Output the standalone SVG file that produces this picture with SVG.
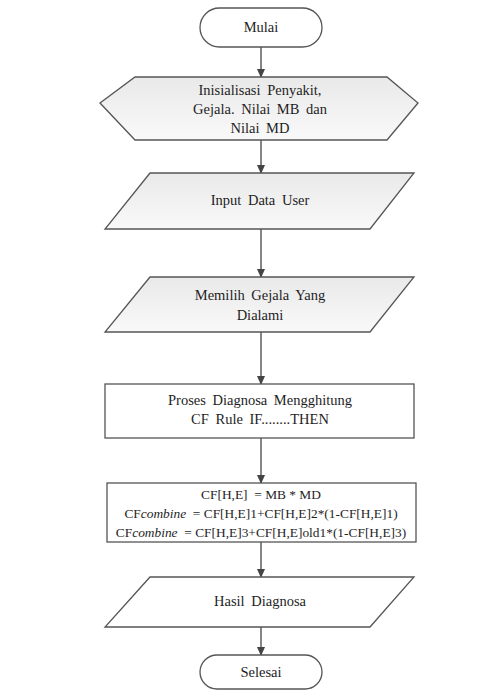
<svg xmlns="http://www.w3.org/2000/svg" width="496" height="691" viewBox="0 0 496 691">
<style>
.s{stroke:#555;stroke-width:1.3;fill:#fff}
.g{fill:url(#gr)}
text{font-family:'Liberation Serif','Times New Roman','DejaVu Serif',serif;font-size:14.5px;fill:#1e1e1e;text-anchor:middle;word-spacing:3px}
.f{font-size:13.4px;word-spacing:0}
.c{stroke:#444;stroke-width:1.3;fill:none;marker-end:url(#ah)}
</style>
<defs>
<linearGradient id="gr" x1="0" y1="0" x2="0" y2="1">
<stop offset="0" stop-color="#e9e9e9"/>
<stop offset="1" stop-color="#f9f9f9"/>
</linearGradient>
<marker id="ah" markerWidth="9" markerHeight="8" refX="8" refY="4" orient="auto" markerUnits="userSpaceOnUse">
<path d="M0,0 L9,4 L0,8 Z" fill="#444"/>
</marker>
</defs>
<g id="connectors">
<line class="c" x1="261" y1="47" x2="261" y2="77"/>
<line class="c" x1="261" y1="140" x2="261" y2="173"/>
<line class="c" x1="261" y1="229" x2="261" y2="277"/>
<line class="c" x1="261" y1="332" x2="261" y2="384"/>
<line class="c" x1="261" y1="438" x2="261" y2="483"/>
<line class="c" x1="261" y1="542" x2="261" y2="577"/>
<line class="c" x1="261" y1="627" x2="261" y2="655"/>
</g>
<g id="mulai">
<rect class="s" x="200" y="8" width="122" height="39" rx="19.5"/>
<text x="261" y="32">Mulai</text>
</g>
<g id="inisialisasi">
<polygon class="s g" points="100,103 135,77 387,77 418,103 387,140 135,140"/>
<text x="260" y="95">Inisialisasi Penyakit,</text>
<text x="260" y="114">Gejala. Nilai MB dan</text>
<text x="260" y="133">Nilai MD</text>
</g>
<g id="input">
<polygon class="s g" points="150,173 414,173 370,229 105,229"/>
<text x="260" y="205">Input Data User</text>
</g>
<g id="memilih">
<polygon class="s g" points="150,277 414,277 370,332 105,332"/>
<text x="260" y="300">Memilih Gejala Yang</text>
<text x="260" y="320">Dialami</text>
</g>
<g id="proses">
<rect class="s" x="105" y="384" width="309" height="54"/>
<text x="260" y="405">Proses Diagnosa Mengghitung</text>
<text x="260" y="424">CF Rule IF........THEN</text>
</g>
<g id="formula">
<rect class="s" x="107" y="483" width="309" height="59"/>
<text class="f" x="261" y="499" xml:space="preserve">CF[H,E]  = MB * MD</text>
<text class="f" x="261" y="518" xml:space="preserve">CF<tspan font-style="italic">combine</tspan>  = CF[H,E]1+CF[H,E]2*(1-CF[H,E]1)</text>
<text class="f" x="261" y="537" xml:space="preserve">CF<tspan font-style="italic">combine</tspan>  = CF[H,E]3+CF[H,E]old1*(1-CF[H,E]3)</text>
</g>
<g id="hasil">
<polygon class="s" points="150,577 414,577 370,627 105,627"/>
<text x="260" y="606">Hasil Diagnosa</text>
</g>
<g id="selesai">
<rect class="s" x="200" y="655" width="122" height="34" rx="17"/>
<text x="261" y="677">Selesai</text>
</g>
</svg>
